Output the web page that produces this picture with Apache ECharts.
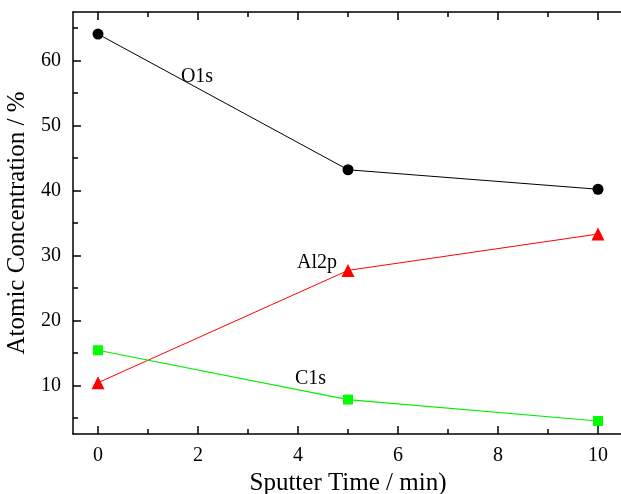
<!DOCTYPE html>
<html><head><meta charset="utf-8">
<script src="https://cdn.jsdelivr.net/npm/echarts@6/dist/echarts.min.js"></script>
<style>html,body{margin:0;padding:0;background:#fff}#c{width:621px;height:494px}</style>
</head><body><div id="c"></div>
<script>
var times = [0, 5, 10];
var o1s = [64.1, 43.2, 40.2];
var al2p = [10.4, 27.7, 33.3];
var c1s = [15.4, 7.8, 4.5];
var xMajor = [0, 2, 4, 6, 8, 10];
var xMinor = [1, 3, 5, 7, 9];
var yMajor = [10, 20, 30, 40, 50, 60];
var yMinor = [5, 15, 25, 35, 45, 55, 65];
var labels = [
  {name: 'O1s', x: 1.98, y: 57.55},
  {name: 'Al2p', x: 4.38, y: 28.9},
  {name: 'C1s', x: 4.25, y: 11.0}
];

var font = 'Liberation Serif';
var chart = echarts.init(document.getElementById('c'));
function mk(series) {
  return series.map(function(v, i){ return [times[i], v]; });
}
var gridPos = {left: 73, top: 12, width: 550, height: 422, containLabel: false, outerBoundsMode: 'none'};
var xBase = {type: 'value', min: -0.5, max: 10.5, splitLine: {show: false}};
var yBase = {type: 'value', min: 2.5, max: 67.5, splitLine: {show: false}};
var axisLineStyle = {show: true, onZero: false, lineStyle: {color: '#000', width: 1.5}};
var tickMajor = {color: '#000', width: 1.5};
chart.setOption({
  animation: false,
  grid: gridPos,
  xAxis: [
    Object.assign({}, xBase, {position: 'bottom', axisLine: axisLineStyle,
      axisTick: {show: true, inside: true, length: 8, customValues: xMajor, lineStyle: tickMajor},
      axisLabel: {customValues: xMajor, margin: 12, color: '#000', fontFamily: font, fontSize: 20},
      name: 'Sputter Time / min)', nameLocation: 'middle', nameGap: 33,
      nameTextStyle: {color: '#000', fontFamily: font, fontSize: 25}}),
    Object.assign({}, xBase, {position: 'bottom', axisLine: {show: false, onZero: false},
      axisTick: {show: true, inside: true, length: 5, customValues: xMinor, lineStyle: tickMajor},
      axisLabel: {show: false}}),
    Object.assign({}, xBase, {position: 'top', axisLine: axisLineStyle,
      axisTick: {show: true, inside: true, length: 8, customValues: xMajor, lineStyle: tickMajor},
      axisLabel: {show: false}}),
    Object.assign({}, xBase, {position: 'top', axisLine: {show: false, onZero: false},
      axisTick: {show: true, inside: true, length: 5, customValues: xMinor, lineStyle: tickMajor},
      axisLabel: {show: false}})
  ],
  yAxis: [
    Object.assign({}, yBase, {position: 'left', axisLine: axisLineStyle,
      axisTick: {show: true, inside: true, length: 8, customValues: yMajor, lineStyle: tickMajor},
      axisLabel: {customValues: yMajor, margin: 12, color: '#000', fontFamily: font, fontSize: 20},
      name: 'Atomic Concentration / %', nameLocation: 'middle', nameGap: 43,
      nameTextStyle: {color: '#000', fontFamily: font, fontSize: 25}}),
    Object.assign({}, yBase, {position: 'left', axisLine: {show: false, onZero: false},
      axisTick: {show: true, inside: true, length: 5, customValues: yMinor, lineStyle: tickMajor},
      axisLabel: {show: false}})
  ],
  series: [
    {type: 'line', data: mk(o1s), symbol: 'circle', symbolSize: 11,
     lineStyle: {color: '#000', width: 1}, itemStyle: {color: '#000'}},
    {type: 'line', data: mk(al2p), symbol: 'triangle', symbolSize: 13,
     lineStyle: {color: '#ff0000', width: 1}, itemStyle: {color: '#ff0000'}},
    {type: 'line', data: mk(c1s), symbol: 'rect', symbolSize: 10,
     lineStyle: {color: '#00ee00', width: 1.2}, itemStyle: {color: '#00ff00'}},
    {type: 'scatter', data: labels.map(function(l){ return {value: [l.x, l.y], name: l.name}; }),
     symbolSize: 0, silent: true, z: 5,
     label: {show: true, position: 'inside', formatter: '{b}', color: '#000', opacity: 1,
             textBorderWidth: 0, fontFamily: font, fontSize: 20}}
  ]
});
</script></body></html>
